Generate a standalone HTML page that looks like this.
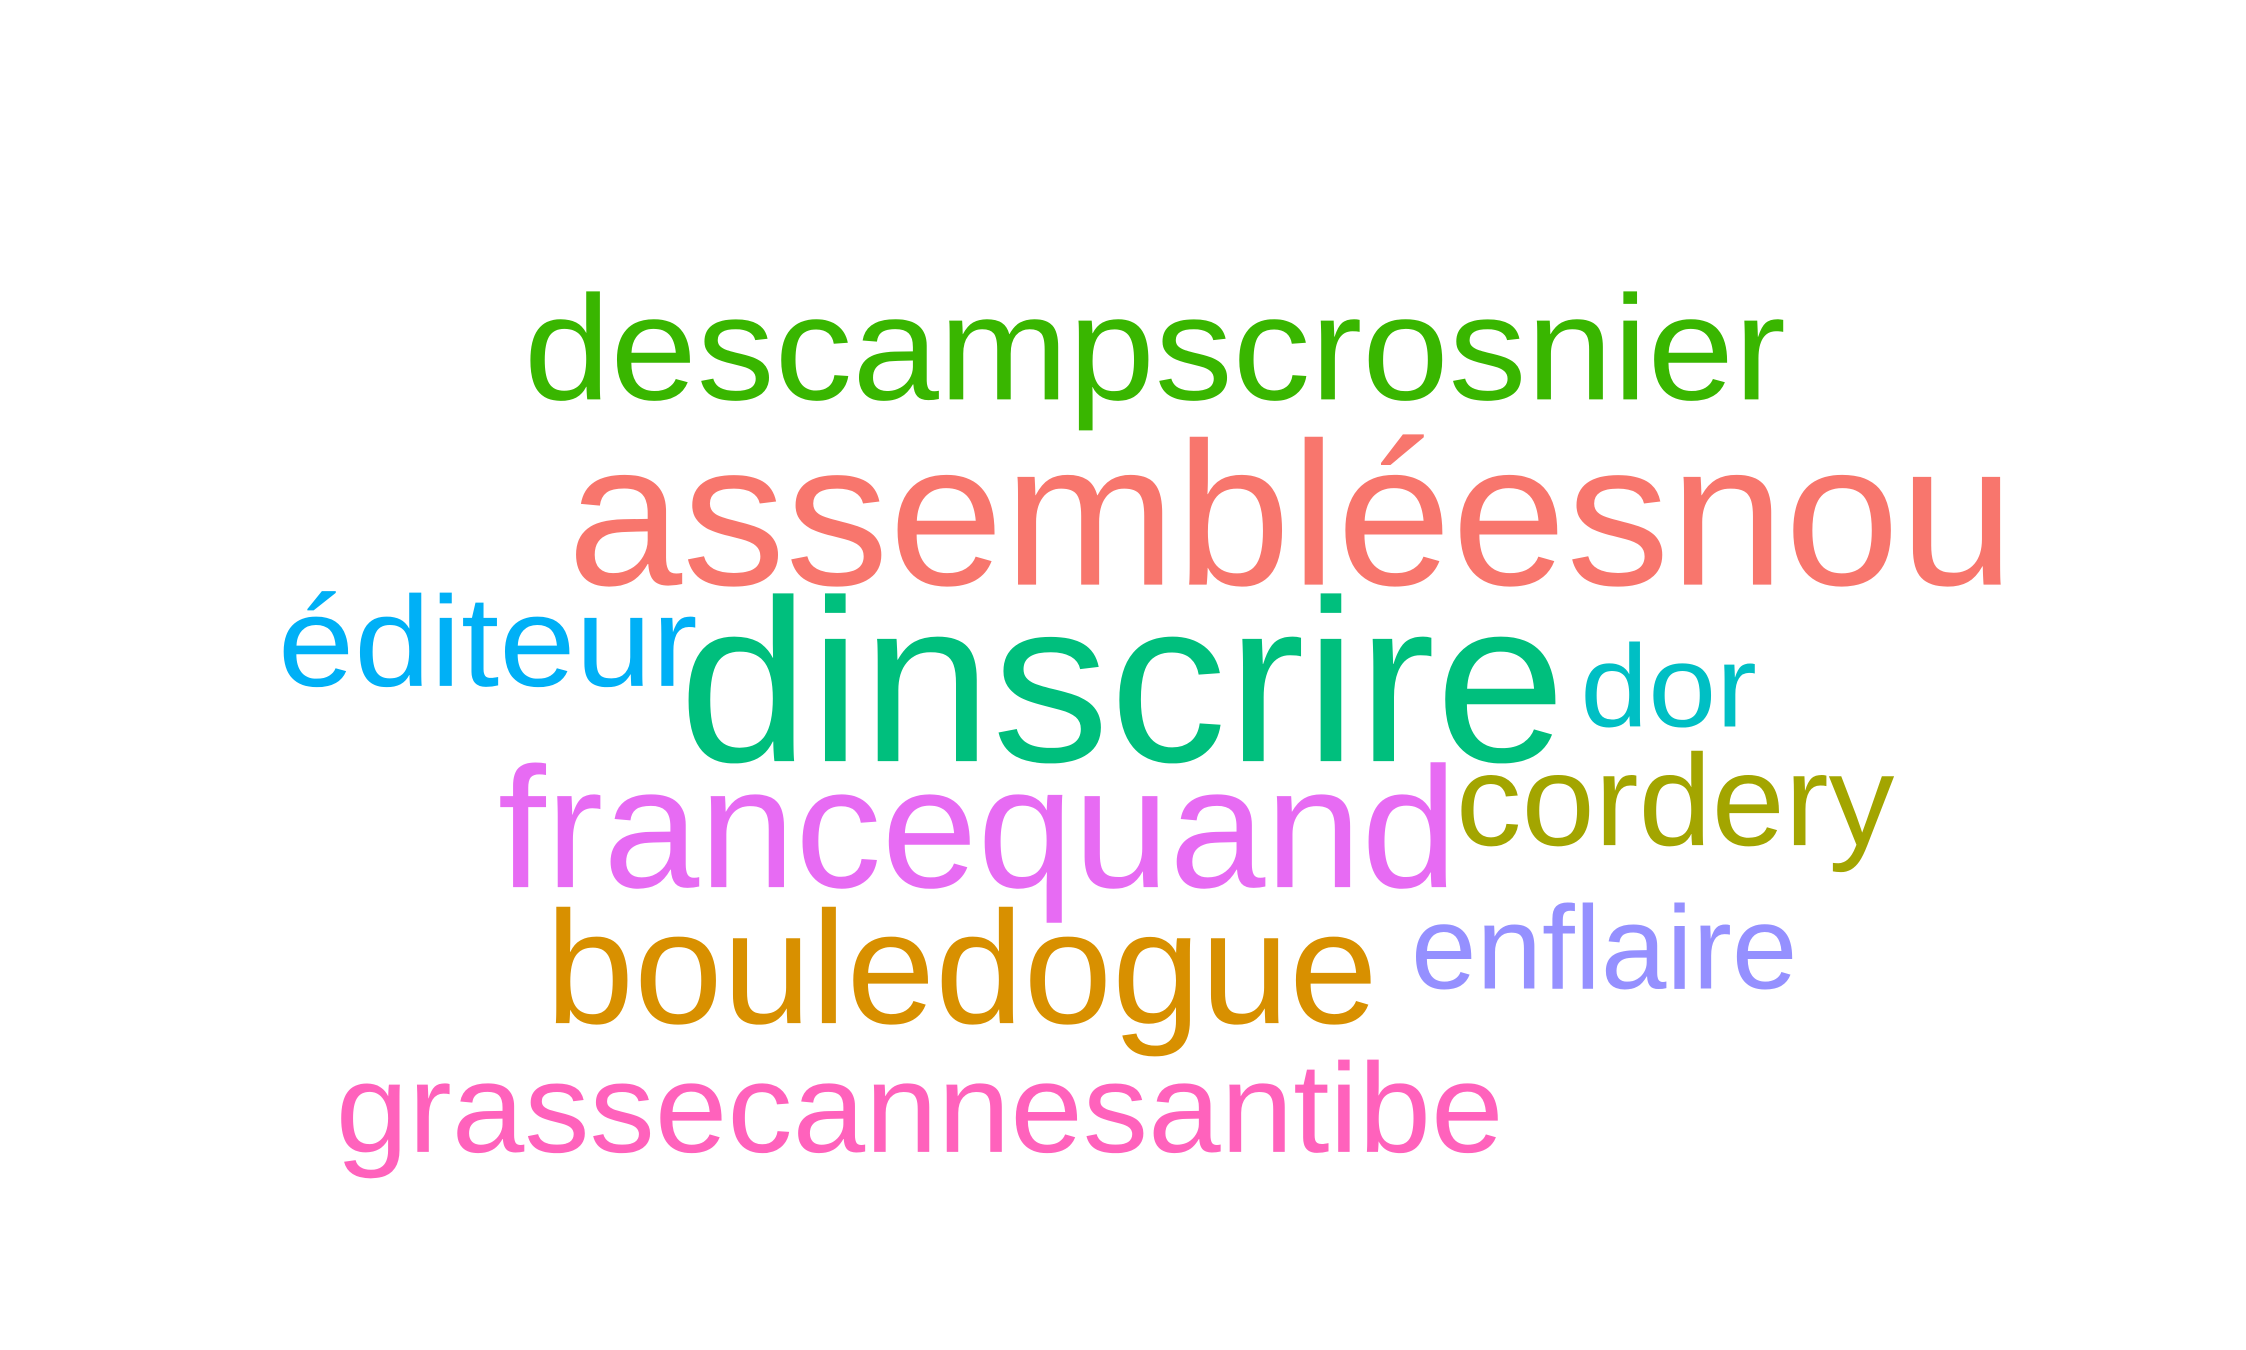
<!DOCTYPE html>
<html>
<head>
<meta charset="utf-8">
<style>
html,body{margin:0;padding:0;background:#fff;}
svg{display:block;}
text{font-family:"Liberation Sans",Arial,sans-serif;}
</style>
</head>
<body>
<svg width="2246" height="1350" viewBox="0 0 1552 932.9" preserveAspectRatio="none" xmlns="http://www.w3.org/2000/svg">
<rect width="1552" height="933" fill="#fff"/>
<g transform="translate(-8,-4)">
<text x="370" y="280" font-size="103" fill="#39B600" textLength="872" lengthAdjust="spacingAndGlyphs">descampscrosnier</text>
<text x="400" y="408" font-size="141" fill="#F8766D" textLength="1000" lengthAdjust="spacingAndGlyphs">assembléesnou</text>
<text x="200" y="478" font-size="89" fill="#00B0F6" textLength="290" lengthAdjust="spacingAndGlyphs">éditeur</text>
<text x="477" y="530" font-size="160" fill="#00BF7D" textLength="613" lengthAdjust="spacingAndGlyphs">dinscrire</text>
<text x="1100" y="506" font-size="81" fill="#00BFC4" textLength="122" lengthAdjust="spacingAndGlyphs">dor</text>
<text x="352" y="617" font-size="119" fill="#E76BF3" textLength="663" lengthAdjust="spacingAndGlyphs">francequand</text>
<text x="1014" y="588" font-size="90" fill="#A3A500" textLength="303" lengthAdjust="spacingAndGlyphs">cordery</text>
<text x="385" y="711" font-size="111" fill="#D89000" textLength="575" lengthAdjust="spacingAndGlyphs">bouledogue</text>
<text x="983" y="687" font-size="82" fill="#9590FF" textLength="267" lengthAdjust="spacingAndGlyphs">enflaire</text>
<text x="240" y="800" font-size="88" fill="#FF62BC" textLength="807" lengthAdjust="spacingAndGlyphs">grassecannesantibe</text>
</g>
</svg>
</body>
</html>
